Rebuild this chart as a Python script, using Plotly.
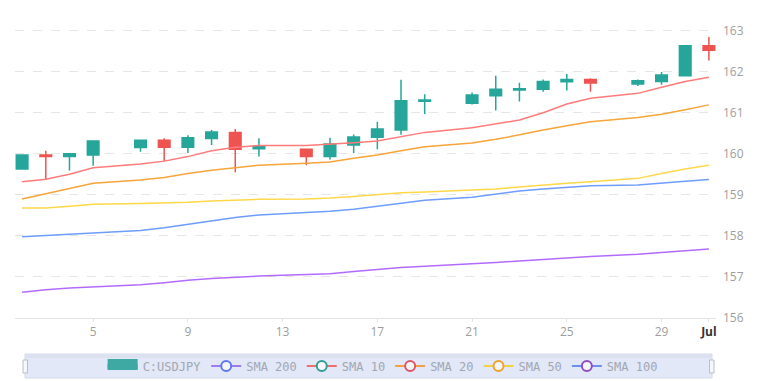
import plotly.graph_objects as go

dates = ['2024-06-02', '2024-06-03', '2024-06-04', '2024-06-05', '2024-06-07', '2024-06-08',
         '2024-06-09', '2024-06-10', '2024-06-11', '2024-06-12', '2024-06-14', '2024-06-15',
         '2024-06-16', '2024-06-17', '2024-06-18', '2024-06-19', '2024-06-21', '2024-06-22',
         '2024-06-23', '2024-06-24', '2024-06-25', '2024-06-26', '2024-06-28', '2024-06-29',
         '2024-06-30', '2024-07-01']
opens = [159.63, 159.97, 159.93, 159.97, 160.15, 160.33, 160.16, 160.37, 160.52, 160.12, 160.11, 159.93, 160.21,
         160.40, 160.58, 161.28, 161.23, 161.41, 161.55, 161.57, 161.75, 161.81, 161.70, 161.76, 161.90, 162.63]
highs = [159.99, 160.07, 160.02, 160.32, 160.34, 160.38, 160.45, 160.58, 160.60, 160.38, 160.12, 160.39, 160.47,
         160.78, 161.80, 161.45, 161.49, 161.90, 161.73, 161.81, 161.94, 161.84, 161.81, 161.99, 162.65, 162.84]
lows = [159.62, 159.36, 159.59, 159.71, 160.05, 159.82, 160.02, 160.21, 159.55, 159.93, 159.72, 159.86, 160.02,
        160.11, 160.46, 160.97, 161.20, 161.05, 161.27, 161.51, 161.54, 161.51, 161.65, 161.68, 161.90, 162.27]
closes = [159.97, 159.93, 160.00, 160.31, 160.33, 160.16, 160.39, 160.53, 160.11, 160.18, 159.93, 160.24, 160.41,
          160.60, 161.29, 161.31, 161.43, 161.57, 161.58, 161.76, 161.81, 161.72, 161.78, 161.92, 162.63, 162.52]

sma10 = [159.32, 159.38, 159.50, 159.66, 159.75, 159.82, 159.93, 160.07, 160.16, 160.20, 160.20, 160.23, 160.27,
         160.31, 160.41, 160.52, 160.63, 160.73, 160.82, 161.00, 161.21, 161.35, 161.47, 161.62, 161.76, 161.86]
sma20 = [158.90, 159.03, 159.16, 159.28, 159.36, 159.42, 159.52, 159.60, 159.66, 159.72, 159.77, 159.80, 159.89,
         159.97, 160.07, 160.17, 160.26, 160.35, 160.46, 160.58, 160.68, 160.78, 160.88, 160.96, 161.07, 161.19]
sma50 = [158.68, 158.68, 158.72, 158.77, 158.79, 158.80, 158.82, 158.85, 158.87, 158.89, 158.90, 158.92, 158.96,
         159.01, 159.05, 159.07, 159.11, 159.14, 159.19, 159.24, 159.28, 159.32, 159.40, 159.52, 159.63, 159.72]
sma100 = [157.98, 158.01, 158.05, 158.08, 158.13, 158.20, 158.28, 158.37, 158.45, 158.51, 158.56, 158.60, 158.65,
          158.72, 158.79, 158.87, 158.94, 159.01, 159.09, 159.14, 159.18, 159.22, 159.24, 159.29, 159.33, 159.37]
sma200 = [156.63, 156.69, 156.73, 156.76, 156.81, 156.86, 156.92, 156.96, 156.99, 157.02, 157.06, 157.08, 157.13,
          157.18, 157.23, 157.26, 157.31, 157.35, 157.39, 157.43, 157.47, 157.50, 157.55, 157.59, 157.63, 157.68]

tick_vals = ['2024-06-05', '2024-06-09', '2024-06-13', '2024-06-17', '2024-06-21', '2024-06-25', '2024-06-29', '2024-07-01']
tick_text = ['5', '9', '13', '17', '21', '25', '29', '<span style="color:#333333"><b>Jul</b></span>']
y_ticks = [156, 157, 158, 159, 160, 161, 162, 163]
x_range = ['2024-06-01 16:48', '2024-07-01 07:12']

UP = '#26a69a'
DOWN = '#ef5350'

# (name, key, values, line colour, legend line colour, legend marker colour)
sma_series = [
    ('SMA 200', 's200', sma200, '#b36bff', '#9a7cf0', '#5f78f2'),
    ('SMA 10', 's10', sma10, '#ff7b7b', '#ee6f72', '#2f9f94'),
    ('SMA 20', 's20', sma20, '#f7a43a', '#f0a148', '#e25463'),
    ('SMA 50', 's50', sma50, '#ffd84a', '#f3d04a', '#eda12f'),
    ('SMA 100', 's100', sma100, '#6e9cff', '#6d8ff2', '#8e4fbf'),
]

fig = go.Figure()

fig.add_trace(go.Candlestick(
    x=dates, open=opens, high=highs, low=lows, close=closes,
    name='C:USDJPY', legendgroup='candle', showlegend=False,
    increasing=dict(line=dict(color=UP, width=1.5), fillcolor=UP),
    decreasing=dict(line=dict(color=DOWN, width=1.5), fillcolor=DOWN),
))

for name, key, vals, lc, llc, mc in sma_series:
    fig.add_trace(go.Scatter(
        x=dates, y=vals, mode='lines', name=name, legendgroup=key, showlegend=False,
        line=dict(color=lc, width=1.5), hoverinfo='skip'
    ))

# legend entries
fig.add_trace(go.Scatter(
    x=[None], y=[None], mode='lines', name='C:USDJPY', legendgroup='candle',
    line=dict(color='#3ea9a3', width=10), fill='toself', fillcolor='#3ea9a3'
))
for name, key, vals, lc, llc, mc in sma_series:
    fig.add_trace(go.Scatter(
        x=[None], y=[None], mode='lines+markers', name=name, legendgroup=key,
        line=dict(color=llc, width=2),
        marker=dict(size=10, color='#f4f6fc', line=dict(color=mc, width=2))
    ))

# range-slider look-alike band under the axis (pixel geometry -> paper coords)
L, R, T, B = 15, 54, 10, 63
W, H = 770 - L - R, 381 - T - B


def px_x(p):
    return (p - L) / W


def px_y(p):
    return (381 - B - p) / H


shapes = [
    dict(type='rect', xref='paper', yref='paper', layer='below',
         x0=px_x(25), x1=px_x(712), y0=px_y(378), y1=px_y(354),
         fillcolor='#e2e8f7', line=dict(color='#d4dae8', width=1)),
    dict(type='rect', xref='paper', yref='paper', layer='below',
         x0=px_x(25.5), x1=px_x(711.5), y0=px_y(358), y1=px_y(354.5),
         fillcolor='#dbe1ee', line=dict(width=0)),
    dict(type='rect', xref='paper', yref='paper', layer='above',
         x0=px_x(23), x1=px_x(27.5), y0=px_y(373), y1=px_y(360),
         fillcolor='#f6f7fa', line=dict(color='#b9bec8', width=1)),
    dict(type='rect', xref='paper', yref='paper', layer='above',
         x0=px_x(709.5), x1=px_x(714), y0=px_y(373), y1=px_y(360),
         fillcolor='#f6f7fa', line=dict(color='#b9bec8', width=1)),
]

fig.update_layout(
    width=770, height=381,
    margin=dict(l=L, r=R, t=T, b=B, autoexpand=False),
    paper_bgcolor='white', plot_bgcolor='white',
    font=dict(family='Open Sans', size=12, color='#9e9e9e'),
    showlegend=True,
    shapes=shapes,
    legend=dict(
        orientation='h', x=0.125, xanchor='left', y=px_y(366), yanchor='middle',
        bgcolor='rgba(0,0,0,0)',
        font=dict(family='DejaVu Sans Mono', size=12, color='#a2a7b2'),
        itemclick=False, itemdoubleclick=False,
    ),
    xaxis=dict(
        type='date',
        range=x_range,
        tickmode='array', tickvals=tick_vals, ticktext=tick_text,
        showgrid=False, zeroline=False,
        showline=True, linecolor='#e3e3e3', linewidth=1,
        ticks='outside', ticklen=3, tickcolor='#e3e3e3',
        tickfont=dict(size=12, color='#9e9e9e'),
        rangeslider=dict(visible=False),
    ),
    yaxis=dict(
        side='right', range=[156, 163.5],
        tickmode='array', tickvals=y_ticks,
        showgrid=True, gridcolor='#e6e6e6', griddash='dash', gridwidth=1,
        zeroline=False, showline=False, ticks='',
        ticklabelstandoff=6,
        tickfont=dict(size=12, color='#9e9e9e'),
    ),
)

fig.write_html('out.html')
